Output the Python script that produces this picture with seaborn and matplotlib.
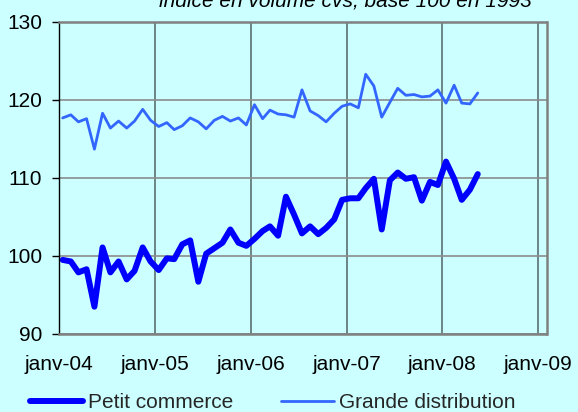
import matplotlib
matplotlib.use("Agg")
import matplotlib.pyplot as plt
import numpy as np
import pandas as pd
import seaborn as sns

# Monthly index (volume, seasonally adjusted, base 100 in 1993), Jan 2004 - May 2008
months = pd.date_range("2004-01-01", periods=53, freq="MS") + pd.Timedelta(days=14)

petit_commerce = [
    99.5, 99.3, 97.9, 98.3, 93.5, 101.1, 97.9, 99.3, 97.0, 98.1, 101.1, 99.3,
    98.2, 99.7, 99.6, 101.5, 102.0, 96.7, 100.3, 101.0, 101.7, 103.4, 101.7, 101.3,
    102.2, 103.2, 103.8, 102.6, 107.6, 105.3, 102.9, 103.8, 102.8, 103.6, 104.7, 107.2,
    107.4, 107.4, 108.7, 109.9, 103.4, 109.7, 110.7, 109.9, 110.1, 107.1, 109.5, 109.1,
    112.1, 109.9, 107.2, 108.5, 110.5,
]

grande_distribution = [
    117.7, 118.1, 117.2, 117.6, 113.7, 118.3, 116.4, 117.3, 116.4, 117.3, 118.8, 117.4,
    116.6, 117.1, 116.2, 116.7, 117.7, 117.2, 116.3, 117.4, 117.9, 117.3, 117.7, 116.8,
    119.4, 117.6, 118.7, 118.2, 118.1, 117.8, 121.3, 118.6, 118.0, 117.2, 118.3, 119.2,
    119.5, 119.0, 123.3, 121.8, 117.8, 119.7, 121.5, 120.6, 120.7, 120.4, 120.5, 121.3,
    119.6, 121.9, 119.6, 119.5, 120.9,
]

series_names = ["Petit commerce", "Grande distribution"]
year_ticks = pd.date_range("2004-01-01", periods=6, freq="YS")
year_labels = ["janv-04", "janv-05", "janv-06", "janv-07", "janv-08", "janv-09"]
y_ticks = [90, 100, 110, 120, 130]
subtitle = "indice en volume cvs, base 100 en 1993"

df = pd.DataFrame({"mois": months,
                   series_names[0]: petit_commerce,
                   series_names[1]: grande_distribution})

sns.set_style("ticks")
plt.rcParams["font.family"] = ["Liberation Sans", "DejaVu Sans"]

bg = "#CCFFFF"
W, H = 578, 412
fig = plt.figure(figsize=(W / 100, H / 100), dpi=100, facecolor=bg)
ax = fig.add_axes([59 / W, 78 / H, (546.5 - 59) / W, (334 - 22) / H])
ax.set_facecolor(bg)

sns.lineplot(data=df, x="mois", y=series_names[0], ax=ax, color="#0000FF",
             linewidth=4.3, label=series_names[0], legend=False,
             solid_joinstyle="round", solid_capstyle="round")
sns.lineplot(data=df, x="mois", y=series_names[1], ax=ax, color="#3366FF",
             linewidth=2.0, label=series_names[1], legend=False)

ax.set_ylim(90, 130)
ax.set_xlim(pd.Timestamp("2004-01-01"), pd.Timestamp("2009-02-01"))
ax.set_yticks(y_ticks)
ax.set_xticks(year_ticks)
ax.set_xticklabels(year_labels)
ax.set_xlabel("")
ax.set_ylabel("")

ax.yaxis.grid(True, color="#8C8C8C", linewidth=1.2)
ax.xaxis.grid(True, color="#4F6464", linewidth=1.1)
ax.set_axisbelow(True)

for side in ["top", "right", "bottom"]:
    ax.spines[side].set_color("#808080")
    ax.spines[side].set_linewidth(1.8)
    ax.spines[side].set_visible(True)
ax.spines["left"].set_color("black")
ax.spines["left"].set_linewidth(1.0)

ax.tick_params(axis="y", direction="out", length=5, width=1, color="black",
               pad=7, labelsize=15, labelcolor="black")
ax.tick_params(axis="x", length=0, pad=15, labelsize=15, labelcolor="black")

fig.text(532 / W, (H - 6.5) / H, subtitle, ha="right", va="baseline",
         fontsize=15, style="italic", color="black")

handles, labels = ax.get_legend_handles_labels()
fig.legend(handles, labels, loc="center left",
           bbox_to_anchor=(29.5 / W, (H - 403) / H), ncol=2, frameon=False,
           fontsize=15, handlelength=2.55, handletextpad=0.25,
           columnspacing=2.3, borderpad=0, borderaxespad=0)

fig.savefig("out.png", dpi=100, facecolor=bg)
